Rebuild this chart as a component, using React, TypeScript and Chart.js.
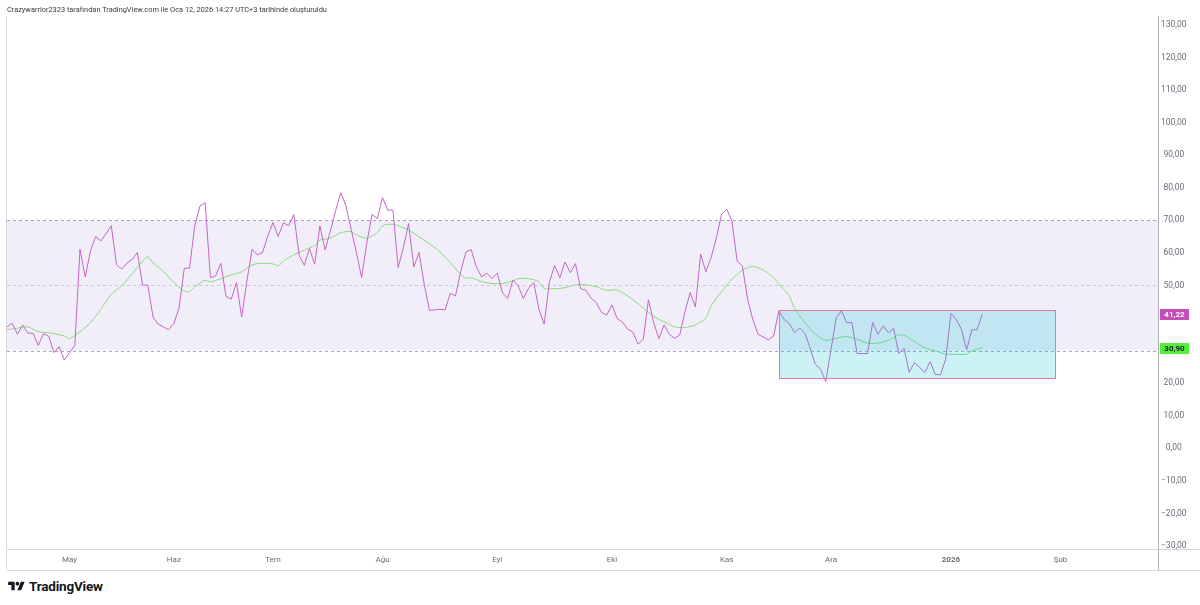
import React, { useEffect, useRef } from 'react';
import { Chart, registerables } from 'chart.js';

Chart.register(...registerables);

// RSI values, one per trading day (index 0 = first bar)
const rsiValues: number[] = [
  37.3, 38.4, 35.0, 37.9, 35.4, 35.3, 31.6, 35.2, 34.4, 29.4, 31.2, 27.1, 29.4, 31.6, 61.1, 52.6, 60.6, 65.0, 63.7, 65.9,
  68.3, 56.3, 55.0, 56.9, 58.0, 60.1, 50.1, 50.1, 40.3, 38.1, 37.3, 36.4, 38.3, 43.2, 55.3, 55.3, 68.3, 74.4,
  75.4, 52.4, 52.9, 56.8, 46.6, 45.8, 50.9, 40.3, 51.4, 61.1, 59.4, 60.1, 65.2, 69.3, 65.0, 69.3, 68.3, 71.8, 59.4, 56.2,
  61.3, 56.5, 68.3, 60.9, 66.7, 72.9, 78.5, 74.4, 67.2, 60.1, 52.4, 63.1, 71.8, 70.5, 77.0, 73.1, 73.1,
  55.5, 61.6, 69.0, 55.7, 60.1, 50.4, 42.4, 42.5, 42.7, 42.5, 47.6, 46.8, 54.3, 60.3, 61.0, 55.7, 52.6, 53.8, 52.1, 53.8,
  47.8, 46.0, 51.7, 49.9, 46.0, 49.1, 50.9, 42.7, 38.1, 50.9, 56.2, 52.4, 57.2, 53.9, 56.7, 49.0, 48.5, 46.1,
  44.7, 41.7, 40.9, 44.0, 39.8, 38.8, 36.6, 35.7, 32.0, 33.5, 45.6, 38.6, 33.7, 37.9, 35.0, 33.8, 34.8, 42.0, 47.8, 43.4,
  59.6, 54.2, 58.5, 64.4, 71.8, 73.4, 69.8, 57.5, 56.0, 45.8, 39.6, 35.0, 34.2, 33.3, 34.5, 42.2,
  39.6, 38.3, 35.5, 36.9, 35.3, 30.7, 25.8, 24.3, 20.5, 30.4, 40.1, 42.2, 38.6, 38.6, 29.1, 29.1, 29.1, 38.6, 35.0, 37.6,
  35.5, 36.8, 29.1, 30.7, 23.3, 26.3, 24.8, 23.3, 26.6, 22.6, 22.6, 27.4, 41.4, 39.6, 36.6, 30.2, 36.4, 36.4, 41.22,
];

// Moving average of RSI, sampled at these bar indices
const maIndex: number[] = [
  0, 2, 4, 6, 8, 11, 12, 14, 16, 18, 20, 22, 24, 26, 27, 28, 30, 32, 34, 35,
  36, 38, 39, 41, 43, 45, 47, 49, 51, 52, 53, 55, 57, 59, 60, 62, 64, 66, 67, 69,
  71, 72, 74, 75, 77, 79, 81, 83, 85, 87, 88, 89, 91, 93, 95, 97, 98, 100, 102, 103,
  105, 107, 109, 111, 113, 115, 117, 119, 121, 123, 125, 127, 128, 130, 132, 134, 135, 137, 139, 141,
  143, 145, 147, 148, 150, 151, 153, 155, 157, 159, 161, 163, 165, 167, 169, 171, 172, 174, 176, 178,
  180, 181, 184, 185, 187,
];
const maValues: number[] = [
  36.4, 36.9, 37.3, 35.8, 35.5, 34.5, 33.7, 35.8, 38.6, 42.7, 47.3, 49.9, 53.6, 57.5, 58.8, 57.0, 54.3, 50.9, 48.3, 48.1,
  49.6, 51.6, 51.1, 52.1, 53.2, 54.2, 56.3, 56.8, 56.6, 56.0, 57.5, 59.4, 60.8, 62.3, 63.9, 64.5, 66.2, 66.5, 65.5, 64.5,
  66.2, 68.3, 68.8, 68.3, 67.0, 64.9, 62.8, 60.4, 57.0, 53.4, 52.2, 52.4, 51.2, 50.6, 50.6, 51.4, 52.1, 52.1, 51.1, 49.1,
  49.0, 49.3, 50.2, 50.2, 49.6, 48.5, 48.6, 46.8, 44.4, 41.7, 39.6, 38.1, 37.3, 37.1, 37.9, 40.1, 43.7, 48.1, 51.9, 54.7,
  55.8, 54.7, 52.4, 50.4, 46.8, 43.0, 38.6, 35.0, 33.2, 33.8, 34.3, 33.5, 32.3, 32.3, 33.2, 34.8, 34.7, 32.8, 30.9, 29.9,
  28.9, 28.9, 28.9, 29.9, 30.9,
];

// Time axis labels (bar index of each month start)
const monthTickIndex: number[] = [12, 32, 51, 72, 94, 116, 138, 158, 181, 202];
const monthTickLabels: string[] = ['May', 'Haz', 'Tem', 'Ağu', 'Eyl', 'Eki', 'Kas', 'Ara', '2026', 'Şub'];

// Price scale labels
const priceTicks: number[] = [130, 120, 110, 100, 90, 80, 70, 60, 50, 20, 10, 0, -10, -20, -30];

// Band levels
const bandLevels: number[] = [70, 50, 30];

// Rectangle drawing (bar indices and values)
const boxBars: number[] = [148, 201];
const boxValues: number[] = [21.7, 42.5];

const FONT = 'Roboto, "Noto Sans", sans-serif';

const fmt = (v: number) => {
  const s = Math.abs(v).toFixed(2).replace('.', ',');
  return v < 0 ? '\u2212' + s : s;
};

const lastRsi = rsiValues[rsiValues.length - 1];
const lastMa = maValues[maValues.length - 1];

const overlayPlugin = {
  id: 'tvOverlay',
  beforeDatasetsDraw(chart: any) {
    const { ctx, chartArea, scales } = chart;
    const y = scales.y;
    ctx.save();
    const yTop = y.getPixelForValue(bandLevels[0]);
    const yBot = y.getPixelForValue(bandLevels[2]);
    ctx.fillStyle = 'rgba(126,87,194,0.1)';
    ctx.fillRect(chartArea.left, yTop, chartArea.right - chartArea.left, yBot - yTop);
    ctx.lineWidth = 1;
    ctx.setLineDash([3, 3]);
    bandLevels.forEach((lvl, k) => {
      const py = Math.round(y.getPixelForValue(lvl)) + 0.5;
      ctx.strokeStyle = k === 1 ? 'rgba(120,123,134,0.35)' : 'rgba(120,110,140,0.6)';
      ctx.beginPath();
      ctx.moveTo(chartArea.left, py);
      ctx.lineTo(chartArea.right, py);
      ctx.stroke();
    });
    ctx.restore();
  },
  afterDatasetsDraw(chart: any) {
    const { ctx, scales } = chart;
    const x = scales.x;
    const y = scales.y;
    ctx.save();
    const x0 = Math.round(x.getPixelForValue(boxBars[0])) + 0.5;
    const x1 = Math.round(x.getPixelForValue(boxBars[1])) + 0.5;
    const y0 = Math.round(y.getPixelForValue(boxValues[1])) + 0.5;
    const y1 = Math.round(y.getPixelForValue(boxValues[0])) + 0.5;
    ctx.fillStyle = 'rgba(0,188,212,0.2)';
    ctx.fillRect(x0, y0, x1 - x0, y1 - y0);
    ctx.strokeStyle = '#e27aa3';
    ctx.lineWidth = 1;
    ctx.strokeRect(x0, y0, x1 - x0, y1 - y0);
    ctx.restore();
  },
  afterDraw(chart: any) {
    const { ctx, chartArea, scales, width } = chart;
    const y = scales.y;
    ctx.save();
    ctx.strokeStyle = '#d6d8de';
    ctx.lineWidth = 1;
    const bottomAxis = chartArea.bottom + 21;
    ctx.beginPath();
    ctx.moveTo(chartArea.left - 0.5, 16);
    ctx.lineTo(chartArea.left - 0.5, bottomAxis);
    ctx.moveTo(chartArea.left, chartArea.bottom + 0.5);
    ctx.lineTo(width, chartArea.bottom + 0.5);
    ctx.moveTo(chartArea.left, bottomAxis + 0.5);
    ctx.lineTo(width, bottomAxis + 0.5);
    ctx.stroke();
    ctx.strokeStyle = '#b2b5be';
    ctx.beginPath();
    ctx.moveTo(chartArea.right + 0.5, 16);
    ctx.lineTo(chartArea.right + 0.5, bottomAxis);
    ctx.stroke();
    const labels = [
      { v: lastRsi, bg: '#c54db5', fg: '#ffffff' },
      { v: lastMa, bg: '#56f03c', fg: '#131722' },
    ];
    ctx.font = `bold 8px ${FONT}`;
    ctx.textAlign = 'center';
    ctx.textBaseline = 'middle';
    labels.forEach((l) => {
      const py = Math.round(y.getPixelForValue(l.v));
      ctx.fillStyle = l.bg;
      ctx.fillRect(chartArea.right + 2, py - 5, 29, 11);
      ctx.fillStyle = l.fg;
      ctx.fillText(fmt(l.v), chartArea.right + 16.5, py + 0.5);
    });
    ctx.restore();
  },
};

export default function App() {
  const canvasRef = useRef<HTMLCanvasElement | null>(null);

  useEffect(() => {
    if (!canvasRef.current) return;
    const chart = new Chart(canvasRef.current, {
      type: 'line',
      data: {
        datasets: [
          {
            label: 'RSI',
            data: rsiValues.map((v, i) => ({ x: i, y: v })),
            borderColor: '#c466c4',
            borderWidth: 1,
            pointRadius: 0,
            tension: 0,
            fill: false,
          },
          {
            label: 'RSI MA',
            data: maIndex.map((xi, k) => ({ x: xi, y: maValues[k] })),
            borderColor: '#86dc7e',
            borderWidth: 1,
            pointRadius: 0,
            tension: 0.3,
            fill: false,
          },
        ],
      },
      options: {
        responsive: false,
        animation: false,
        events: [],
        layout: { padding: { left: 7, top: 18, right: 0, bottom: 5 } },
        plugins: { legend: { display: false }, tooltip: { enabled: false } },
        scales: {
          x: {
            type: 'linear',
            min: 0,
            max: 220.7,
            grid: { display: false, drawTicks: false },
            border: { display: false },
            afterBuildTicks: (scale: any) => {
              scale.ticks = monthTickIndex.map((v) => ({ value: v }));
            },
            afterFit: (scale: any) => {
              scale.height = 21;
            },
            ticks: {
              autoSkip: false,
              maxRotation: 0,
              padding: 6,
              color: '#6a6d78',
              font: (c: any) => ({
                family: FONT,
                size: 8,
                weight: c.tick && c.tick.label === '2026' ? 'bold' : 'normal',
              }),
              callback: (_v: any, i: number) => monthTickLabels[i],
            },
          },
          y: {
            type: 'linear',
            position: 'right',
            min: -30.9,
            max: 132.1,
            grid: { display: false, drawTicks: false },
            border: { display: false },
            afterBuildTicks: (scale: any) => {
              scale.ticks = priceTicks.map((v) => ({ value: v }));
            },
            afterFit: (scale: any) => {
              scale.width = 42;
            },
            ticks: {
              autoSkip: false,
              padding: 3,
              crossAlign: 'center',
              color: '#6a6d78',
              font: { family: FONT, size: 8.5 },
              callback: (v: any) => fmt(Number(v)),
            },
          },
        },
      },
      plugins: [overlayPlugin],
    });
    return () => chart.destroy();
  }, []);

  return (
    <div
      style={{
        position: 'fixed',
        left: 0,
        top: 0,
        width: 1200,
        height: 605,
        background: '#ffffff',
        overflow: 'hidden',
      }}
    >
      <canvas
        ref={canvasRef}
        width={1200}
        height={575}
        style={{ position: 'absolute', left: 0, top: 0, width: 1200, height: 575 }}
      />
      <div
        style={{
          position: 'absolute',
          left: 7,
          top: 5,
          fontFamily: FONT,
          fontSize: 7.4,
          color: '#3a3a3a',
          whiteSpace: 'nowrap',
          lineHeight: '10px',
        }}
      >
        Crazywarrior2323 tarafından TradingView.com ile Oca 12, 2026 14:27 UTC+3 tarihinde oluşturuldu
      </div>
      <div
        style={{
          position: 'absolute',
          left: 8,
          top: 578,
          display: 'flex',
          alignItems: 'center',
          gap: 4,
          fontFamily: FONT,
        }}
      >
        <svg width="17" height="13" viewBox="0 0 36 28" style={{ display: 'block' }}>
          <path d="M14 22H7V11H0V4h14v18zM28 22h-8l7.5-18h8L28 22z" fill="#131722" />
          <circle cx="20" cy="8" r="4" fill="#131722" />
        </svg>
        <span style={{ fontSize: 13.5, fontWeight: 700, color: '#131722', letterSpacing: -0.2 }}>TradingView</span>
      </div>
    </div>
  );
}
